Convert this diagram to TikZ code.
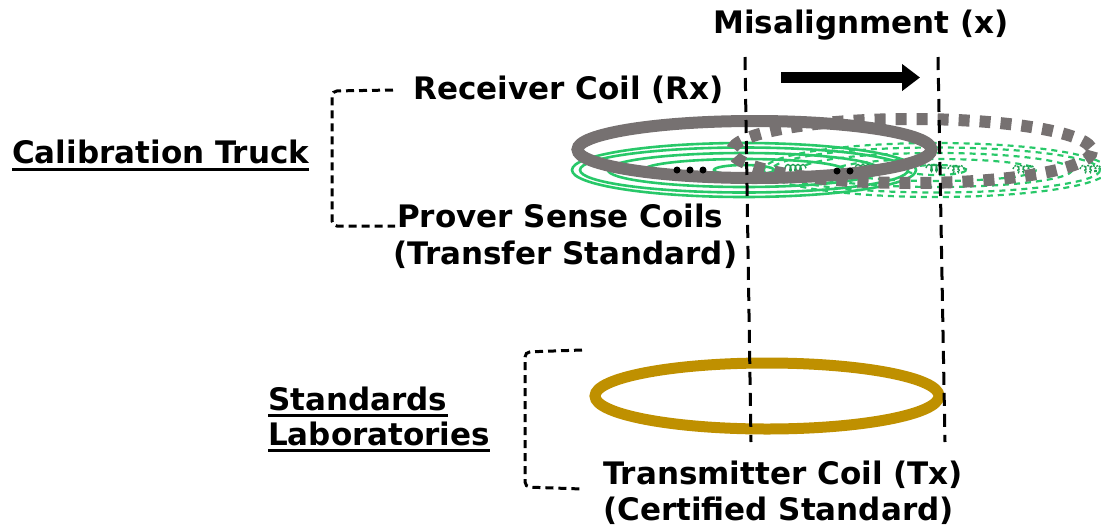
\documentclass[tikz,border=0pt]{standalone}
\usepackage{fontspec}
\setmainfont{DejaVu Sans}
\usetikzlibrary{arrows.meta,decorations.pathmorphing}

\definecolor{coilgray}{RGB}{118,113,113}
\definecolor{coilgold}{RGB}{191,144,0}
\definecolor{sensegreen}{RGB}{40,200,105}

\tikzset{
  label/.style={anchor=base west, inner sep=0pt, font=\fontsize{31}{36}\selectfont\bfseries},
  guide/.style={draw=black, line width=3pt, dash pattern=on 13pt off 8pt},
  bracket/.style={draw=black, line width=3pt, dash pattern=on 8pt off 5pt, rounded corners=5pt},
  uline/.style={line width=3pt},
  sensesolid/.style={draw=sensegreen, line width=2.6pt},
  sensedash/.style={draw=sensegreen, line width=2.2pt, dash pattern=on 6pt off 5pt},
  winding/.style={draw=sensegreen!80!black, line width=1.4pt, decorate,
    decoration={coil, amplitude=3.5pt, segment length=5pt}},
  dotmark/.style={fill=black, circle, inner sep=0pt, minimum size=7pt}
}

\begin{document}
\begin{tikzpicture}[x=1pt, y=-1pt]
\useasboundingbox (0,0) rectangle (1101,531);
\clip (0,0) rectangle (1101,531);

% prover sense coils: aligned set (solid) and displaced set (dashed)
\foreach \rx/\ry in {172/27, 164/22.5, 136/17, 100/11, 30/5}{
  \draw[sensesolid] (744,170) ellipse [x radius=\rx, y radius=\ry];
  \draw[sensedash] (936,170) ellipse [x radius=\rx, y radius=\ry];
}
% small winding marks
\foreach \a/\b in {785/806, 855/876, 926/946}{
  \draw[winding] (\a,168) -- (\b,168);
}
\foreach \a/\b in {948/968, 1013/1036, 1080/1101}{
  \draw[winding, dash pattern=on 2pt off 1pt] (\a,169) -- (\b,169);
}

% transmitter coil
\draw[coilgold, line width=11pt] (767,396) ellipse [x radius=172, y radius=33];

% receiver coil: aligned position and displaced position
\draw[coilgray, line width=12pt] (754.5,149.5) ellipse [x radius=177, y radius=28.5];
\draw[coilgray, line width=12pt, dash pattern=on 11pt off 10pt] (912,151) ellipse [x radius=180, y radius=32];

% ellipsis marks between the coil turns
\node[dotmark] (d1) at (677,170) {};
\node[dotmark] (d2) at (690,170) {};
\node[dotmark] (d3) at (703,170) {};
\node[dotmark] (d4) at (837,171) {};
\node[dotmark] (d5) at (850,171) {};

% misalignment guides
\coordinate (gla) at (745,57);
\coordinate (glb) at (751,442);
\coordinate (gra) at (938,57);
\coordinate (grb) at (945,442);
\draw[guide] (gla) -- (glb);
\draw[guide] (gra) -- (grb);

% displacement arrow
\coordinate (arra) at (781,77.5);
\coordinate (arrb) at (920,77.5);
\draw[line width=11pt, -{Triangle[length=18pt, width=26pt]}] (arra) -- (arrb);

% labels
\node[label] (mis) at (713,33) {Misalignment (x)};
\node[label] (rx) at (413,99) {Receiver Coil (Rx)};
\node[label] (psc) at (397,227) {Prover Sense Coils};
\node[label] (tsd) at (393,264) {(Transfer Standard)};
\node[label] (ct) at (12,163) {Calibration Truck};
\node[label] (sd) at (268,410) {Standards};
\node[label] (lab) at (268,445) {Laboratories};
\node[label] (tx) at (603,484) {Transmitter Coil (Tx)};
\node[label] (cs) at (603,520) {(Certified Standard)};

% underlines of the group names
\draw[uline] ([yshift=-6pt]ct.base west) -- ([yshift=-6pt]ct.base east);
\draw[uline] ([yshift=-5pt]sd.base west) -- ([yshift=-5pt]sd.base east);
\draw[uline] ([yshift=-5pt]lab.base west) -- ([yshift=-5pt]lab.base east);

% group brackets
\draw[bracket] ([xshift=-20pt,yshift=9pt]rx.base west) -- (332,91) -- (332,226) -- ([xshift=-2pt,yshift=1pt]psc.base west);
\draw[bracket] (582,350) -- (525,352) -- (525,487) -- (582,489);
\end{tikzpicture}
\end{document}
